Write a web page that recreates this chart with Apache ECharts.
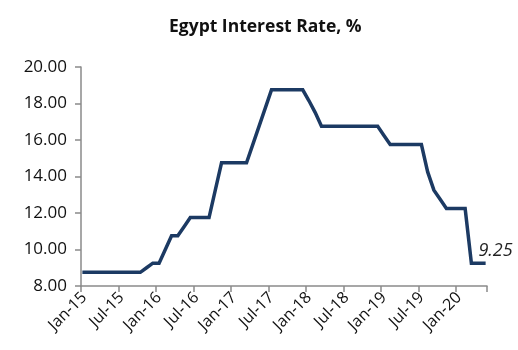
<!DOCTYPE html>
<html>
<head>
<meta charset="utf-8">
<script src="https://cdn.jsdelivr.net/npm/echarts@6/dist/echarts.min.js"></script>
<style>
  html, body { margin: 0; padding: 0; background: #fff; }
  #chart { width: 518px; height: 350px; }
</style>
</head>
<body>
<div id="chart"></div>
<script>
// Monthly labels, Jan-15 through May-20
const monthNames = ['Jan','Feb','Mar','Apr','May','Jun','Jul','Aug','Sep','Oct','Nov','Dec'];
const firstYear = 2015, lastYear = 2020, lastMonthOfLastYear = 5;
const months = [];
for (let y = firstYear; y <= lastYear; y++) {
  const end = (y === lastYear) ? lastMonthOfLastYear : 12;
  for (let m = 0; m < end; m++) {
    months.push(monthNames[m] + '-' + String(y).slice(2));
  }
}

// Central bank policy rate, %
const rate = [
  8.75, 8.75, 8.75, 8.75, 8.75, 8.75, 8.75, 8.75, 8.75, 8.75, 9.00, 9.25,   // 2015
  9.25, 10.00, 10.75, 10.75, 11.25, 11.75, 11.75, 11.75, 11.75, 13.25, 14.75, 14.75, // 2016
  14.75, 14.75, 14.75, 15.75, 16.75, 17.75, 18.75, 18.75, 18.75, 18.75, 18.75, 18.75, // 2017
  18.15, 17.50, 16.75, 16.75, 16.75, 16.75, 16.75, 16.75, 16.75, 16.75, 16.75, 16.75, // 2018
  16.25, 15.75, 15.75, 15.75, 15.75, 15.75, 15.75, 14.25, 13.25, 12.75, 12.25, 12.25, // 2019
  12.25, 12.25, 9.25, 9.25, 9.25                                                   // 2020
];

// Y-axis scale
const yMin = 8, yMax = 20, yStep = 2;

const font = '"Open Sans", "Liberation Sans", sans-serif';
const axisGrey = '#8a8a8a';
const lineColor = '#1c3a63';

// Only the latest reading carries a value label, set above and right of the point
const seriesData = rate.map((v, i) => {
  if (i !== rate.length - 1) return v;
  return {
    value: v,
    label: {
      show: true,
      position: [-5, -21],
      formatter: p => p.value.toFixed(2),
      fontFamily: font,
      fontStyle: 'italic',
      fontSize: 18,
      color: '#222'
    }
  };
});

const chart = echarts.init(document.getElementById('chart'), null, { renderer: 'canvas' });
chart.setOption({
  animation: false,
  backgroundColor: '#fff',
  title: {
    text: 'Egypt Interest Rate, %',
    left: 164,
    top: 13,
    textStyle: { fontFamily: font, fontWeight: 'bold', fontSize: 17.5, color: '#111' }
  },
  grid: { left: 81, right: 31, top: 67, bottom: 64, containLabel: false },
  xAxis: {
    type: 'category',
    data: months,
    boundaryGap: true,
    axisLine: { lineStyle: { color: axisGrey, width: 1.5 } },
    axisTick: { show: true, interval: 5, length: 6, lineStyle: { color: axisGrey, width: 1.5 } },
    axisLabel: {
      interval: 5,
      rotate: 45,
      margin: 9,
      fontFamily: font,
      fontSize: 16,
      color: '#111'
    },
    splitLine: { show: false }
  },
  yAxis: {
    type: 'value',
    min: yMin,
    max: yMax,
    interval: yStep,
    axisLine: { show: true, lineStyle: { color: axisGrey, width: 1.5 } },
    axisTick: { show: true, length: 6, lineStyle: { color: axisGrey, width: 1.5 } },
    axisLabel: {
      margin: 14,
      fontFamily: font,
      fontSize: 17,
      color: '#111',
      formatter: v => v.toFixed(2)
    },
    splitLine: { show: false }
  },
  series: [{
    type: 'line',
    data: seriesData,
    symbol: 'circle',
    symbolSize: 1,
    showSymbol: true,
    itemStyle: { color: 'rgba(0,0,0,0)', borderWidth: 0 },
    lineStyle: { color: lineColor, width: 3.5, cap: 'square', join: 'miter' },
    labelLayout: { hideOverlap: false }
  }]
});
</script>
</body>
</html>
